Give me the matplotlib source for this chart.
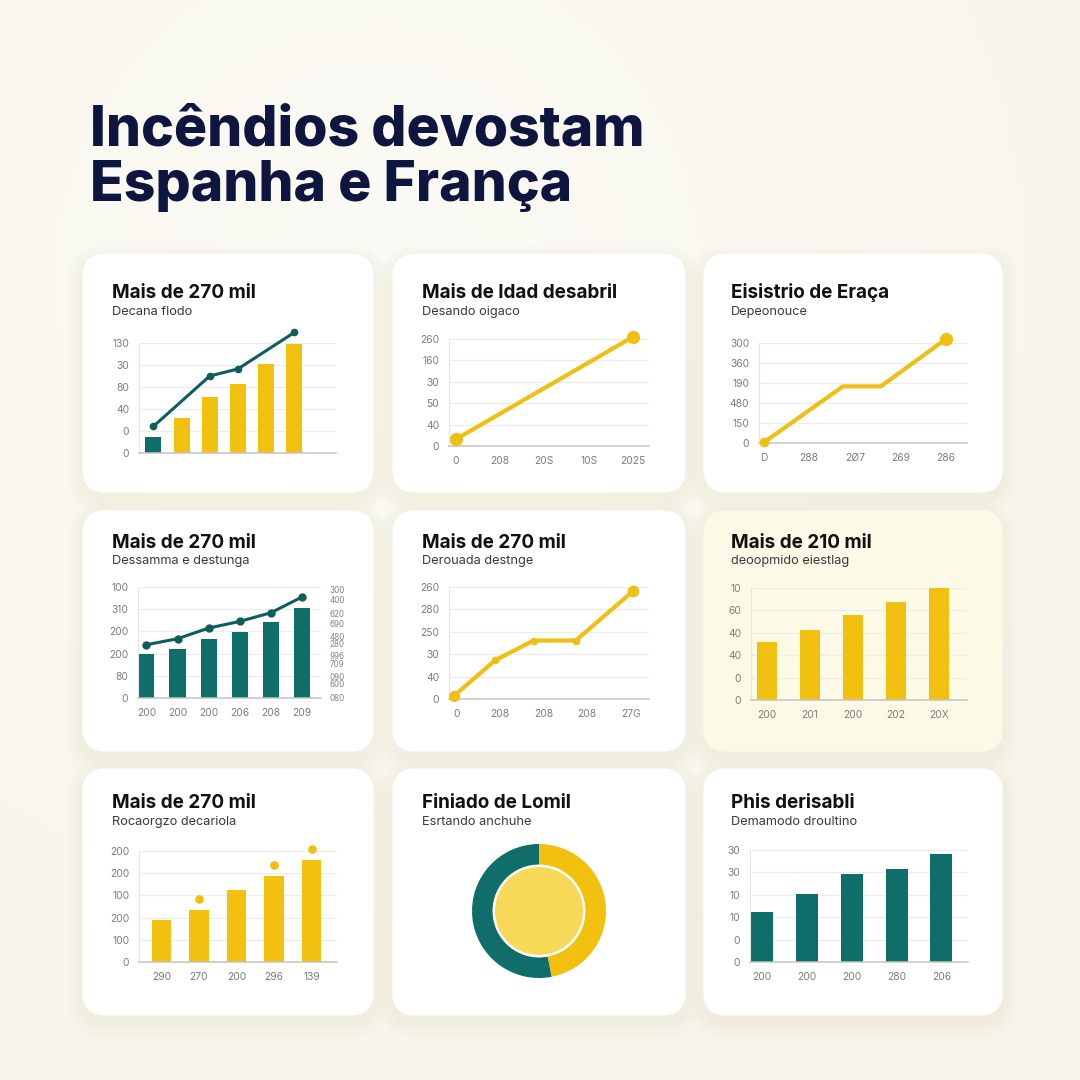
import numpy as np
import matplotlib
matplotlib.use("Agg")
import matplotlib.pyplot as plt
from matplotlib.patches import FancyBboxPatch, Circle

# ---------------- data ----------------
title_lines = ["Incêndios devostam", "Espanha e França"]

card_titles = ["Mais de 270 mil", "Mais de ldad desabril", "Eisistrio de Eraça",
               "Mais de 270 mil", "Mais de 270 mil", "Mais de 210 mil",
               "Mais de 270 mil", "Finiado de Lomil", "Phis derisabli"]
card_subtitles = ["Decana flodo", "Desando oigaco", "Depeonouce",
                  "Dessamma e destunga", "Derouada destnge", "deoopmido eiestlag",
                  "Rocaorgzo decariola", "Esrtando anchuhe", "Demamodo droultino"]

# card 1: bars + line
c1_ylabels = ["0", "0", "40", "80", "30", "130"]
c1_bars = [0.73, 1.58, 2.53, 3.12, 4.03, 4.94]
c1_line_x = [0, 2, 3, 5]
c1_line_y = [1.21, 3.50, 3.82, 5.48]

# card 2: line
c2_ylabels = ["0", "40", "50", "30", "160", "260"]
c2_xlabels = ["0", "208", "20S", "10S", "2025"]
c2_line_x = [0, 4]
c2_line_y = [0.31, 5.10]

# card 3: line
c3_ylabels = ["0", "150", "480", "190", "360", "300"]
c3_xlabels = ["D", "288", "2Ø7", "269", "286"]
c3_line_x = [0.02, 1.74, 2.57, 4.0]
c3_line_y = [0.05, 2.83, 2.83, 5.20]

# card 4: bars + line, two axes
c4_ylabels = ["0", "80", "200", "200", "310", "100"]
c4_xlabels = ["200", "200", "200", "206", "208", "209"]
c4_bars = [1.97, 2.19, 2.67, 2.96, 3.42, 4.04]
c4_line = [2.40, 2.67, 3.15, 3.45, 3.84, 4.55]
c4_right_pos = [0.03, 0.66, 0.98, 1.56, 1.92, 2.46, 2.78, 3.36, 3.82, 4.45, 4.90]
c4_right_labels = ["080", "600", "090", "709", "996", "280", "480", "690", "620", "400", "300"]

# card 5: line
c5_ylabels = ["0", "40", "30", "250", "280", "260"]
c5_xlabels = ["0", "208", "208", "208", "27G"]
c5_line_x = [-0.05, 0.89, 1.77, 2.74, 4.05]
c5_line_y = [0.15, 1.73, 2.61, 2.61, 4.81]

# card 6: bars
c6_ylabels = ["0", "0", "40", "40", "60", "10"]
c6_xlabels = ["200", "201", "200", "202", "20X"]
c6_bars = [2.57, 3.14, 3.78, 4.38, 5.06]

# card 7: bars + dots
c7_ylabels = ["0", "100", "200", "100", "200", "200"]
c7_xlabels = ["290", "270", "200", "296", "139"]
c7_bars = [1.91, 2.36, 3.26, 3.86, 4.59]
c7_dots = [np.nan, 2.84, np.nan, 4.38, 5.09]

# card 8: donut
c8_values = [47, 53]

# card 9: bars
c9_ylabels = ["0", "0", "10", "10", "30", "30"]
c9_xlabels = ["200", "200", "200", "280", "206"]
c9_bars = [2.23, 3.02, 3.94, 4.15, 4.81]

# ---------------- style ----------------
YEL = "#f2c10f"
YEL_LINE = "#efbf14"
TEAL = "#0f6e6a"
TEAL_LINE = "#0d5e5b"
NAVY = "#0e1640"
FONT = ["Inter", "DejaVu Sans"]
plt.rcParams["font.family"] = FONT

W = H = 1080
fig = plt.figure(figsize=(10.8, 10.8), dpi=100)

bg = fig.add_axes([0, 0, 1, 1], zorder=0)
bg.set_xlim(0, W)
bg.set_ylim(H, 0)
bg.axis("off")

# background gradient
yy, xx = np.mgrid[0:1:200j, 0:1:200j]
d = np.sqrt((xx - 0.35) ** 2 + (yy - 0.25) ** 2)
base = np.array([247, 244, 235]) / 255
light = np.array([251, 250, 244]) / 255
t = np.clip(d / 0.9, 0, 1)[..., None]
img = light * (1 - t) + base * t
bg.imshow(img, extent=(0, W, H, 0), aspect="auto", zorder=0)

bg.text(90, 145, title_lines[0], fontsize=39.8, fontweight="heavy", color=NAVY, va="baseline", zorder=5)
bg.text(90, 201, title_lines[1], fontsize=39.8, fontweight="heavy", color=NAVY, va="baseline", zorder=5)

cols = [(82, 374), (392, 686), (703, 1003)]
rows = [(253, 493), (510, 752), (768, 1016)]
title_base = [298, 548, 808]
sub_base = [315, 564, 825]

k = 0
for ri, (y0, y1) in enumerate(rows):
    for ci, (x0, x1) in enumerate(cols):
        # shadow
        for i in range(8):
            pad = 1 + i * 2.0
            sh = FancyBboxPatch((x0 - pad, y0 - pad + 7), (x1 - x0) + 2 * pad, (y1 - y0) + 2 * pad,
                                boxstyle="round,pad=0,rounding_size=%f" % (24 + pad),
                                fc="#c8bfa2", ec="none", alpha=0.016, zorder=1)
            bg.add_patch(sh)
        fc = "#fcfae7" if k == 5 else "#ffffff"
        card = FancyBboxPatch((x0, y0), x1 - x0, y1 - y0,
                              boxstyle="round,pad=0,rounding_size=24",
                              fc=fc, ec="#f3f0e9", lw=0.6, zorder=2)
        bg.add_patch(card)
        tx = x0 + 30 if ci < 2 else x0 + 28
        bg.text(tx, title_base[ri], card_titles[k], fontsize=13.6, fontweight="bold",
                color="#111111", va="baseline", zorder=5)
        bg.text(tx, sub_base[ri], card_subtitles[k], fontsize=9.2, color="#3a3a3a",
                va="baseline", zorder=5)
        k += 1


def add_ax(l, t, r, b):
    ax = fig.add_axes([l / W, 1 - b / H, (r - l) / W, (b - t) / H], zorder=3)
    ax.set_facecolor("none")
    return ax


def style(ax, ylabels, xlabels=None, xlim=None):
    ax.set_ylim(0, 5)
    ax.set_yticks(range(6))
    ax.set_yticklabels(ylabels)
    ax.grid(axis="y", color="#ececec", lw=0.9)
    ax.set_axisbelow(True)
    for s in ["top", "right"]:
        ax.spines[s].set_visible(False)
    ax.spines["left"].set_color("#e6e6e6")
    ax.spines["left"].set_linewidth(0.8)
    ax.spines["bottom"].set_color("#c4c4c4")
    ax.spines["bottom"].set_linewidth(1.1)
    ax.tick_params(length=0, labelsize=7.4, colors="#7c7c7c", pad=7)
    if xlabels is None:
        ax.set_xticks([])
    else:
        ax.set_xticks(range(len(xlabels)))
        ax.set_xticklabels(xlabels)
    if xlim is not None:
        ax.set_xlim(*xlim)


# card 1
ax = add_ax(139, 343, 336, 453)
style(ax, c1_ylabels, None, (-0.51, 6.48))
ax.bar(range(len(c1_bars)), c1_bars, width=0.57,
       color=[TEAL] + [YEL] * (len(c1_bars) - 1), zorder=2)
ax.plot(c1_line_x, c1_line_y, color=TEAL_LINE, lw=2.2, marker="o", ms=4.5, zorder=3, clip_on=False)

# card 2
ax = add_ax(449, 339, 649, 446)
style(ax, c2_ylabels, c2_xlabels, (-0.15, 4.36))
ax.plot(c2_line_x, c2_line_y, color=YEL_LINE, lw=3, marker="o", ms=8.5, zorder=3, clip_on=False)

# card 3
ax = add_ax(759, 343, 967, 443)
style(ax, c3_ylabels, c3_xlabels, (-0.1, 4.46))
ax.plot(c3_line_x, c3_line_y, color=YEL_LINE, lw=3, zorder=3, clip_on=False)
ax.plot(c3_line_x[0], c3_line_y[0], "o", color=YEL_LINE, ms=6, zorder=4, clip_on=False)
ax.plot(c3_line_x[-1], c3_line_y[-1], "o", color=YEL_LINE, ms=8.5, zorder=4, clip_on=False)

# card 4
ax = add_ax(138, 587, 321, 698)
style(ax, c4_ylabels, c4_xlabels, (-0.27, 5.61))
ax.bar(range(len(c4_bars)), c4_bars, width=0.52, color=TEAL, zorder=2)
ax.plot(range(len(c4_line)), c4_line, color=TEAL_LINE, lw=2.2, marker="o", ms=5, zorder=3, clip_on=False)
ax2 = ax.twinx()
ax2.set_ylim(0, 5)
ax2.set_yticks(c4_right_pos)
ax2.set_yticklabels(c4_right_labels)
for s in ax2.spines.values():
    s.set_visible(False)
ax2.tick_params(length=0, labelsize=5.8, colors="#858585", pad=6)

# card 5
ax = add_ax(449, 587, 649, 699)
style(ax, c5_ylabels, c5_xlabels, (-0.17, 4.42))
ax.plot(c5_line_x, c5_line_y, color=YEL_LINE, lw=3, marker="o", ms=4.5, zorder=3, clip_on=False)
ax.plot(c5_line_x[0], c5_line_y[0], "o", color=YEL_LINE, ms=7, zorder=4, clip_on=False)
ax.plot(c5_line_x[-1], c5_line_y[-1], "o", color=YEL_LINE, ms=7.5, zorder=4, clip_on=False)

# card 6
ax = add_ax(751, 588, 967, 700)
style(ax, c6_ylabels, c6_xlabels, (-0.37, 4.66))
ax.bar(range(len(c6_bars)), c6_bars, width=0.47, color=YEL, zorder=2)

# card 7
ax = add_ax(139, 851, 337, 962)
style(ax, c7_ylabels, c7_xlabels, (-0.6, 4.68))
ax.bar(range(len(c7_bars)), c7_bars, width=0.53, color=YEL, zorder=2)
ax.plot(range(len(c7_dots)), c7_dots, "o", color=YEL_LINE, ms=5.2, zorder=3, clip_on=False)

# card 8: donut
ax = add_ax(469, 841, 609, 981)
ax.set_aspect("equal")
ax.pie(c8_values, colors=[YEL, TEAL], startangle=90, counterclock=False, radius=1.0,
       wedgeprops=dict(width=0.32, edgecolor="none"))
ax.add_patch(Circle((0, 0), 0.675, fc="#f8d858", ec="white", lw=1.8, zorder=5))
ax.set_xlim(-1.045, 1.045)
ax.set_ylim(-1.045, 1.045)
ax.axis("off")

# card 9
ax = add_ax(750, 850, 968, 962)
style(ax, c9_ylabels, c9_xlabels, (-0.26, 4.59))
ax.bar(range(len(c9_bars)), c9_bars, width=0.49, color=TEAL, zorder=2)

fig.savefig("out.png", dpi=100)
